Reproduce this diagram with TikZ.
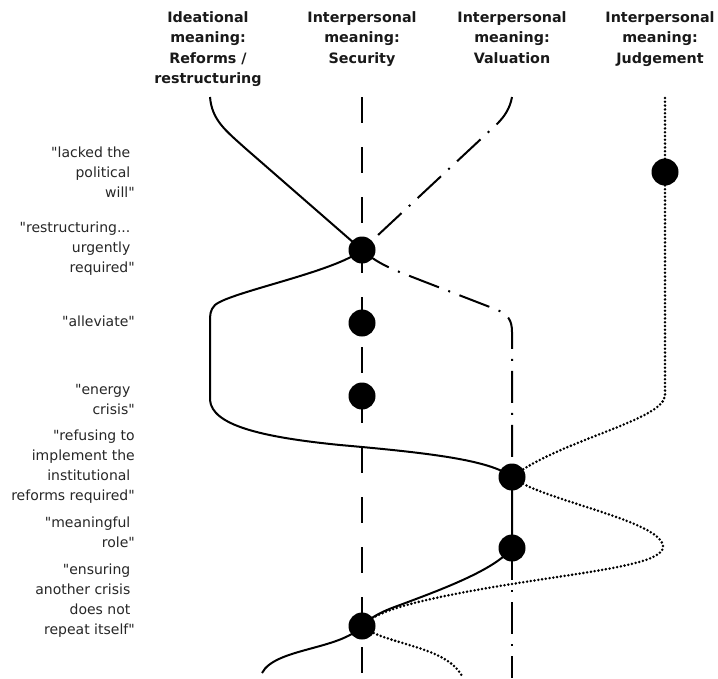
\documentclass[tikz,border=0pt]{standalone}
\usepackage{fontspec}
\setmainfont{DejaVu Sans}
\newcommand{\tsp}{\makebox[0.318em]{}}
\newcommand{\qq}{\XeTeXglyph\XeTeXcharglyph"22\relax}
\begin{document}
\begin{tikzpicture}[x=1pt,y=-1pt,
  lab/.style={anchor=north east,align=right,inner sep=0pt,font=\fontsize{14}{20}\selectfont,text=black!85},
  head/.style={anchor=north,align=center,inner sep=0pt,font=\bfseries\fontsize{14.3}{20.5}\selectfont,text=black!90},
  dot/.style={circle,fill=black,inner sep=0pt,minimum size=27pt},
  solidln/.style={line width=2pt},
  dashln/.style={line width=2pt,dash pattern=on 26pt off 24pt},
  dashdotln/.style={line width=2pt,dash pattern=on 32pt off 10pt on 2pt off 10pt},
  dotln/.style={line width=2.8pt,line cap=round,dash pattern=on 0pt off 3.8pt}]
\useasboundingbox (0,0) rectangle (718,678);

% headers
\node[head] (h1) at (208,11) {Ideational\\meaning:\\Reforms /\\restructuring};
\node[head] (h2) at (362,11) {Interpersonal\\meaning:\\Security};
\node[head] (h3) at (512,11) {Interpersonal\\meaning:\\Valuation};
\node[head] (h4) at (660,11) {Interpersonal\\meaning:\\Judgement};

% left labels
\node[lab] (l1) at (135,146.5) {\qq lacked the\tsp\\political\tsp\\will\qq};
\node[lab] (l2) at (135,221.5) {\qq restructuring...\tsp\\urgently\tsp\\required\qq};
\node[lab] (l3) at (135,315.5) {\qq alleviate\qq};
\node[lab] (l4) at (135,384.5) {\qq energy\tsp\\crisis\qq};
\node[lab] (l5) at (135,429.5) {\qq refusing to\\implement the\\institutional\tsp\\reforms required\qq};
\node[lab] (l6) at (135,516.5) {\qq meaningful\tsp\\role\qq};
\node[lab] (l7) at (135,563.5) {\qq ensuring\tsp\\another crisis\tsp\\does not\tsp\\repeat itself\qq};

% dot positions and free ends
\coordinate (j1) at (665,172);
\coordinate (s1) at (362,250);
\coordinate (s2) at (362,323);
\coordinate (s3) at (362,396);
\coordinate (s4) at (362,626);
\coordinate (v1) at (512,477);
\coordinate (v2) at (512,548);
\coordinate (itop) at (210,97);
\coordinate (ibot) at (262,673);
\coordinate (stop) at (362,97);
\coordinate (sbot) at (362,678);
\coordinate (vtop) at (512,97);
\coordinate (vbot) at (512,678);
\coordinate (jtop) at (665,98);
\coordinate (jbot) at (462,676);

% security (dashed)
\draw[dashln] (stop) -- (sbot);

% valuation (dash-dot)
\draw[dashdotln] (vtop) .. controls (510,108) and (505,116) .. (497,124) -- (s1);
\draw[dashdotln] (s1) .. controls (380,266) and (400,272) .. (420,280) -- (495,309)
  .. controls (508,314) and (512,320) .. (512,332) -- (v1);
\draw[dashdotln] (v2) -- (vbot);

% judgement (dotted)
\draw[dotln] (jtop) -- (j1) -- (665,395) .. controls (665,420) and (560,440) .. (v1)
  .. controls (540,500) and (660,520) .. (663,546)
  .. controls (665,568) and (560,573) .. (450,595)
  .. controls (410,603) and (375,612) .. (s4)
  .. controls (385,645) and (445,645) .. (jbot);

% ideational (solid)
\draw[solidln] (itop) .. controls (212,120) and (225,130) .. (245,148) -- (s1)
  .. controls (335,272) and (230,292) .. (215,305)
  .. controls (210,310) and (210,315) .. (210,322) -- (210,400)
  .. controls (212,425) and (260,437) .. (340,445)
  .. controls (430,453) and (490,460) .. (v1) -- (v2)
  .. controls (495,570) and (440,590) .. (400,605)
  .. controls (380,612) and (370,618) .. (s4)
  .. controls (340,650) and (275,648) .. (ibot);

% dots
\node[dot] (dj1) at (j1) {};
\node[dot] (ds1) at (s1) {};
\node[dot] (ds2) at (s2) {};
\node[dot] (ds3) at (s3) {};
\node[dot] (ds4) at (s4) {};
\node[dot] (dv1) at (v1) {};
\node[dot] (dv2) at (v2) {};
\end{tikzpicture}
\end{document}
